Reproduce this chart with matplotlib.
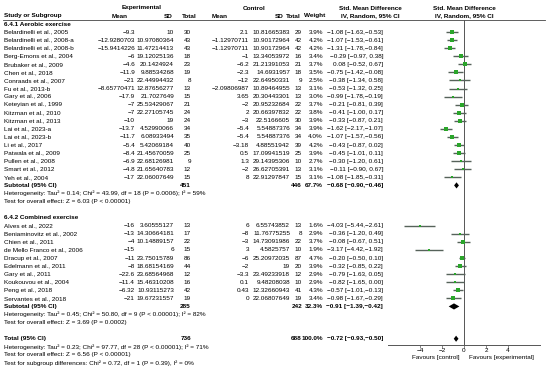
import matplotlib
matplotlib.use("Agg")
import matplotlib.pyplot as plt

# ---------------- data ----------------
aer_names = ["Belardinelli et al., 2005", "Belardinelli et al., 2008-a", "Belardinelli et al., 2008-b",
             "Berg-Emons et al., 2004", "Brubaker et al., 2009", "Chen et al., 2018", "Conraads et al., 2007",
             "Fu et al., 2013-b", "Gary et al., 2006", "Keteyian et al., 1999", "Kitzman et al., 2010",
             "Kitzman et al., 2013", "Lai et al., 2023-a", "Lai et al., 2023-b", "Li et al., 2017",
             "Patwala et al., 2009", "Pullen et al., 2008", "Smart et al., 2012", "Yeh et al., 2004"]
aer_e_mean = [-9.3, -12.9280703, -15.9414226, -6, -4.6, -11.9, -21, -8.65770471, -17.9, -7, -7, -10,
              -13.7, -11.7, -5.4, -8.4, -6.9, -4.8, -17]
aer_e_sd = [10, 10.97080364, 11.47214413, 19.12025136, 20.1424924, 9.88534268, 22.44994432, 12.87656277,
            21.7027649, 25.53429067, 22.27105745, 19, 4.52990066, 6.08933494, 5.42069184, 21.45670059,
            22.68126981, 21.65640783, 22.06007649]
aer_e_n = [30, 43, 43, 18, 23, 19, 8, 13, 15, 21, 24, 24, 34, 35, 40, 25, 9, 12, 15]
aer_c_mean = [2.1, -1.12970711, -1.12970711, -1, -6.2, -2.3, -12, -2.09806987, 3.65, -2, 2, -3, -5.4, -5.4,
              -3.18, 0.5, 1.3, -2, 8]
aer_c_sd = [10.81665383, 10.90172964, 10.90172964, 13.34053972, 21.21391053, 14.6931957, 22.64950331,
            10.89464955, 20.30443301, 20.95232684, 20.66397832, 22.5166605, 5.54887376, 5.54887376,
            4.88551942, 17.09941519, 29.14395306, 26.62705391, 22.91297847]
aer_c_n = [29, 42, 42, 16, 21, 18, 9, 13, 13, 22, 22, 30, 34, 34, 39, 25, 10, 13, 15]
aer_w = [3.9, 4.2, 4.2, 3.4, 3.7, 3.5, 2.5, 3.1, 3.0, 3.7, 3.8, 3.9, 3.9, 4.0, 4.2, 3.9, 2.7, 3.1, 3.1]
aer_smd = [-1.08, -1.07, -1.31, -0.29, 0.08, -0.75, -0.38, -0.53, -0.99, -0.21, -0.41, -0.33, -1.62, -1.07,
           -0.43, -0.45, -0.30, -0.11, -1.08]
aer_lo = [-1.63, -1.53, -1.78, -0.97, -0.52, -1.42, -1.34, -1.32, -1.78, -0.81, -1.00, -0.87, -2.17, -1.57,
          -0.87, -1.01, -1.20, -0.90, -1.85]
aer_hi = [-0.53, -0.61, -0.84, 0.38, 0.67, -0.08, 0.58, 0.25, -0.19, 0.39, 0.17, 0.21, -1.07, -0.56,
          0.02, 0.11, 0.61, 0.67, -0.31]

com_names = ["Alves et al., 2022", "Beniaminovitz et al., 2002", "Chien et al., 2011",
             "de Mello Franco et al., 2006", "Dracup et al., 2007", "Edelmann et al., 2011", "Gary et al., 2011",
             "Koukouvou et al., 2004", "Peng et al., 2018", "Servantes et al., 2018"]
com_e_mean = [-16, -13, -4, -15, -11, -8, -22.6, -11.4, -6.32, -21]
com_e_sd = [3.60555127, 14.30664181, 10.14889157, 6, 23.75015789, 18.68154169, 23.68564968, 15.46310208,
            10.93115273, 19.67231557]
com_e_n = [13, 17, 22, 15, 86, 44, 12, 16, 42, 19]
com_c_mean = [6, -8, -3, 3, -6, -2, -3.3, 0.1, 0.43, 0]
com_c_sd = [6.55743852, 11.76775255, 14.73091986, 4.5825757, 25.20972035, 19, 23.49233918, 9.48208038,
            12.32660943, 22.06807649]
com_c_n = [13, 8, 22, 10, 87, 20, 12, 10, 41, 19]
com_w = [1.6, 2.9, 3.7, 1.9, 4.7, 3.9, 2.9, 2.9, 4.3, 3.4]
com_smd = [-4.03, -0.36, -0.08, -3.17, -0.20, -0.32, -0.79, -0.82, -0.57, -0.98]
com_lo = [-5.44, -1.20, -0.67, -4.42, -0.50, -0.85, -1.63, -1.65, -1.01, -1.67]
com_hi = [-2.61, 0.49, 0.51, -1.92, 0.10, 0.22, 0.05, 0.00, -0.13, -0.29]

sub_labels = ["Subtotal (95% CI)", "Subtotal (95% CI)", "Total (95% CI)"]
sub_e_n = [451, 285, 736]
sub_c_n = [446, 242, 688]
sub_w = [67.7, 32.3, 100.0]
sub_smd = [-0.68, -0.91, -0.72]
sub_lo = [-0.90, -1.39, -0.93]
sub_hi = [-0.46, -0.42, -0.50]

het_texts = [
    ["Heterogeneity: Tau\u00b2 = 0.14; Chi\u00b2 = 43.99, df = 18 (P = 0.0006); I\u00b2 = 59%",
     "Test for overall effect: Z = 6.03 (P < 0.00001)"],
    ["Heterogeneity: Tau\u00b2 = 0.45; Chi\u00b2 = 50.80, df = 9 (P < 0.00001); I\u00b2 = 82%",
     "Test for overall effect: Z = 3.69 (P = 0.0002)"],
    ["Heterogeneity: Tau\u00b2 = 0.23; Chi\u00b2 = 97.77, df = 28 (P < 0.00001); I\u00b2 = 71%",
     "Test for overall effect: Z = 6.56 (P < 0.00001)",
     "Test for subgroup differences: Chi\u00b2 = 0.72, df = 1 (P = 0.39), I\u00b2 = 0%"],
]
section_titles = ["6.4.1 Aerobic exercise", "6.4.2 Combined exercise"]
xticks = [-4, -2, 0, 2, 4]

# ---------------- layout ----------------
W, H = 550, 371
Y0, DY = 24.0, 8.07          # pixel y of row 0 and row spacing
FS = 4.6
FONT = "Liberation Sans"
SQ = "#2aa52a"
LN = "#56625a"

def m(v):
    return str(v).replace("-", "\u2212")

def ci(s, lo, hi):
    sep = ", " if hi >= 0 else ","
    return f"{s:.2f} [{lo:.2f}{sep}{hi:.2f}]".replace("-", "\u2212")

fig = plt.figure(figsize=(W / 100, H / 100), dpi=100)
ax = fig.add_axes([0, 0, 1, 1])
ax.set_xlim(0, W)
ax.set_ylim((H - Y0) / DY, -Y0 / DY)
ax.axis("off")

def row_of(px):
    return (px - Y0) / DY

def t(x, r, s, ha="left", bold=False):
    ax.text(x, r, s, ha=ha, va="center", fontsize=FS, family=FONT,
            fontweight="bold" if bold else "normal")

# headers
rh1, rh2 = row_of(8), row_of(16)
t(142, rh1, "Experimental", "center", True)
t(254, rh1, "Control", "center", True)
t(370, rh1, "Std. Mean Difference", "center", True)
t(464, rh1, "Std. Mean Difference", "center", True)
t(4, rh2, "Study or Subgroup", bold=True)
t(128, rh2, "Mean", "right", True)
t(173, rh2, "SD", "right", True)
t(197, rh2, "Total", "right", True)
t(228, rh2, "Mean", "right", True)
t(284, rh2, "SD", "right", True)
t(301, rh2, "Total", "right", True)
t(325, rh2, "Weight", "right", True)
t(370, rh2, "IV, Random, 95% CI", "center", True)
t(464, rh2, "IV, Random, 95% CI", "center", True)
ax.plot([3, 545], [row_of(20), row_of(20)], color="#444444", lw=0.6)

XC = [135, 174, 191, 249, 290, 302, 323, 383]

groups = [
    (aer_names, aer_e_mean, aer_e_sd, aer_e_n, aer_c_mean, aer_c_sd, aer_c_n, aer_w, aer_smd, aer_lo, aer_hi),
    (com_names, com_e_mean, com_e_sd, com_e_n, com_c_mean, com_c_sd, com_c_n, com_w, com_smd, com_lo, com_hi),
]

study_rows, study_data = [], []
diamond_rows = []
r = 0
for gi, g in enumerate(groups):
    t(4, r, section_titles[gi], bold=True)
    r += 1
    names, em, es, en, cm, cs, cn, w, smd, lo, hi = g
    for i in range(len(names)):
        t(4, r, names[i])
        vals = [m(em[i]), m(es[i]), str(en[i]), m(cm[i]), m(cs[i]), str(cn[i]), f"{w[i]:.1f}%",
                ci(smd[i], lo[i], hi[i])]
        for x, v in zip(XC, vals):
            t(x, r, v, "right")
        study_rows.append(r)
        study_data.append((smd[i], lo[i], hi[i], w[i]))
        r += 1
    t(4, r, sub_labels[gi], bold=True)
    t(XC[2], r, str(sub_e_n[gi]), "right", True)
    t(XC[5], r, str(sub_c_n[gi]), "right", True)
    t(XC[6], r, f"{sub_w[gi]:.1f}%", "right", True)
    t(XC[7], r, ci(sub_smd[gi], sub_lo[gi], sub_hi[gi]), "right", True)
    diamond_rows.append(r)
    r += 1
    for line in het_texts[gi]:
        t(4, r, line)
        r += 1
    r += 1

# total
t(4, r, sub_labels[2], bold=True)
t(XC[2], r, str(sub_e_n[2]), "right", True)
t(XC[5], r, str(sub_c_n[2]), "right", True)
t(XC[6], r, f"{sub_w[2]:.1f}%", "right", True)
t(XC[7], r, ci(sub_smd[2], sub_lo[2], sub_hi[2]), "right", True)
diamond_rows.append(r)
r += 1
for line in het_texts[2]:
    t(4, r, line)
    r += 1

# ---------------- forest panel ----------------
X0PX, UNIT = 464, 11.0
AX_L, AX_R, AX_T, AX_B = 388, 540, 20, 345
fa = fig.add_axes([AX_L / W, 1 - AX_B / H, (AX_R - AX_L) / W, (AX_B - AX_T) / H])
fa.set_xlim((AX_L - X0PX) / UNIT, (AX_R - X0PX) / UNIT)
fa.set_ylim(row_of(AX_B), row_of(AX_T))
fa.patch.set_alpha(0)
for s in ["left", "right", "top"]:
    fa.spines[s].set_visible(False)
fa.spines["bottom"].set_linewidth(0.7)
fa.spines["bottom"].set_color("#555555")
fa.set_yticks([])
fa.set_xticks(xticks)
fa.set_xticklabels([m(v) for v in xticks], fontsize=FS, family=FONT)
fa.tick_params(axis="x", length=2, width=0.5, pad=0.5, colors="#555555", labelcolor="black")
fa.axvline(0, color="#555555", lw=0.7)

for rr, (s, lo, hi, w) in zip(study_rows, study_data):
    fa.plot([lo, hi], [rr, rr], color=LN, lw=1.0, solid_capstyle="butt")
    fa.plot([s], [rr], marker="s", color=SQ, markersize=1.2 * w ** 0.5, markeredgewidth=0)

for rr, s, lo, hi in zip(diamond_rows, sub_smd, sub_lo, sub_hi):
    h = 0.38
    fa.fill([lo, s, hi, s], [rr, rr - h, rr, rr + h], color="black", lw=0)

ax.text(459, row_of(358), "Favours [control]", ha="right", va="center", fontsize=FS, family=FONT)
ax.text(469, row_of(358), "Favours [experimental]", ha="left", va="center", fontsize=FS, family=FONT)

fig.savefig("out.png", dpi=100)
